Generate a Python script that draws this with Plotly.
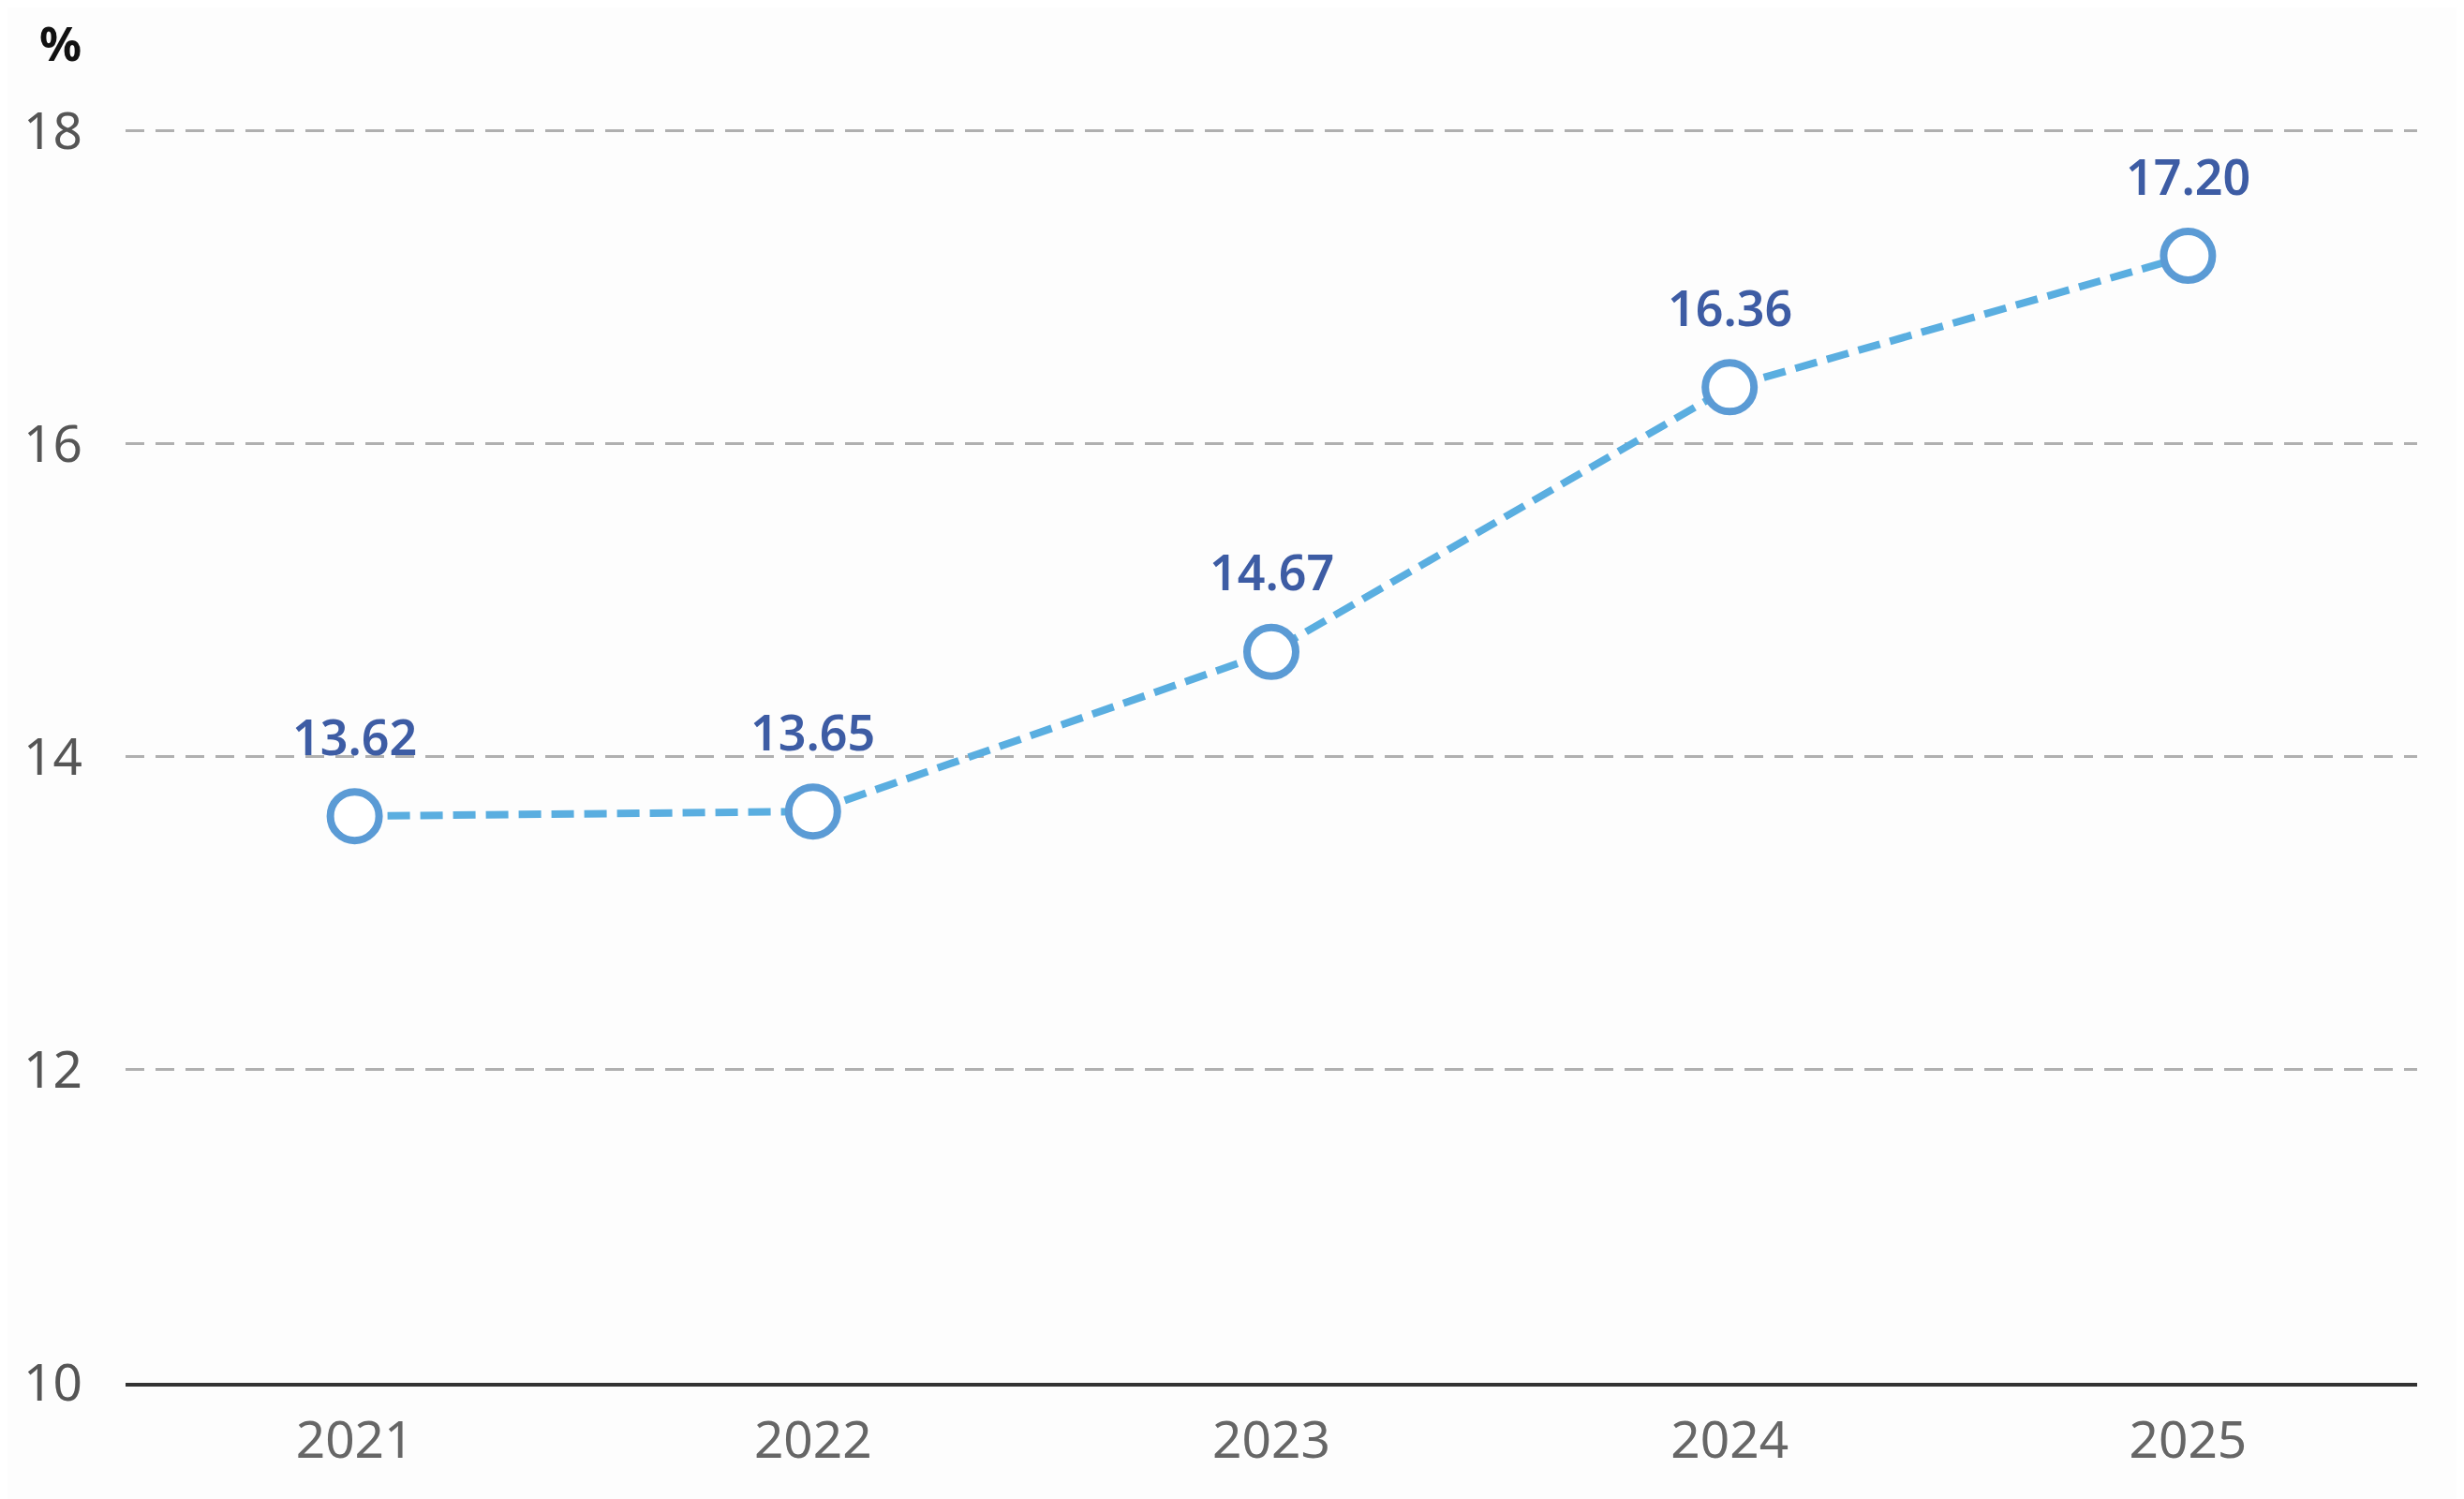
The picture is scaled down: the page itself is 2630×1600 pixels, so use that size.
import plotly.graph_objects as go

years = ["2021", "2022", "2023", "2024", "2025"]
values = [13.62, 13.65, 14.67, 16.36, 17.20]
labels = ["13.62", "13.65", "14.67", "16.36", "17.20"]
y_ticks = [10, 12, 14, 16, 18]

fig = go.Figure()
fig.add_trace(go.Scatter(
    x=years, y=values, mode="lines+markers",
    line=dict(color="#5aaee0", width=8, dash="24px,11px"),
    marker=dict(size=52, color="white", line=dict(color="#5b9bd5", width=8)),
    cliponaxis=False, showlegend=False, hoverinfo="skip",
))
for i, (y, t) in enumerate(zip(values, labels)):
    fig.add_annotation(x=i, y=y, text=t, showarrow=False, yshift=86,
                       font=dict(family="Noto Sans", size=52, color="#3d5ca4",
                                 weight=600))

fig.add_annotation(xref="paper", yref="paper", x=-0.0286, y=1.0, yshift=126,
                   text="<b>%</b>", showarrow=False, xanchor="center",
                   font=dict(family="Noto Sans", size=50, color="#111111"))

fig.update_xaxes(type="category", range=[-0.5, 4.5], showgrid=False,
                 showline=True, linecolor="#333333", linewidth=4,
                 ticks="", tickfont=dict(family="Noto Sans", size=55, color="#666666"),
                 ticklabelstandoff=10)
fig.update_yaxes(range=[10, 18.02], tickvals=y_ticks, showgrid=True,
                 gridcolor="#b0b0b0", gridwidth=2.5, griddash="20px,12px",
                 zeroline=False, showline=False, ticks="",
                 tickfont=dict(family="Noto Sans", size=55, color="#555555"),
                 ticklabelstandoff=45)

fig.update_layout(
    width=2630, height=1600,
    margin=dict(l=126, r=58, t=128, b=132),
    paper_bgcolor="#fdfdfd", plot_bgcolor="#fdfdfd",
)
fig.write_html("out.html")
